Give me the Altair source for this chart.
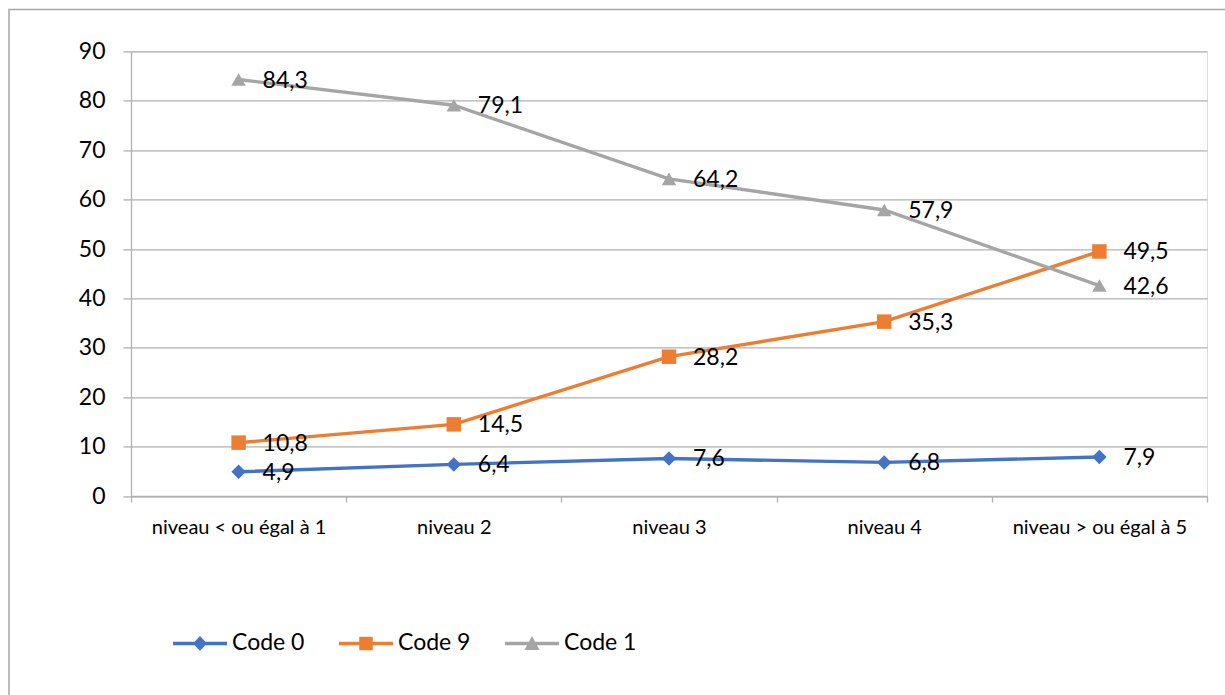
import altair as alt
import pandas as pd

# Categories on the x axis and the three series
categories = [
    "niveau < ou égal à 1",
    "niveau 2",
    "niveau 3",
    "niveau 4",
    "niveau > ou égal à 5",
]
series = ["Code 0", "Code 9", "Code 1"]
code0 = [4.9, 6.4, 7.6, 6.8, 7.9]
code9 = [10.8, 14.5, 28.2, 35.3, 49.5]
code1 = [84.3, 79.1, 64.2, 57.9, 42.6]

# Styling
FONT = "Lato"
colors = ["#4472C4", "#ED7D31", "#A5A5A5"]
shapes = ["diamond", "square", "triangle-up"]
# Legend keys: a short line with the series marker in the middle
legend_keys = [
    "M-1,-0.065H1V0.065H-1Z M-0.26,0L0,-0.27L0.26,0L0,0.27Z",
    "M-1,-0.065H1V0.065H-1Z M-0.25,-0.25H0.25V0.25H-0.25Z",
    "M-1,-0.065H1V0.065H-1Z M0,-0.27L0.28,0.24H-0.28Z",
]
GRID = "#b0b0b0"

rows = []
for name, vals in zip(series, [code0, code9, code1]):
    for cat, v in zip(categories, vals):
        rows.append({
            "niveau": cat,
            "serie": name,
            "valeur": v,
            "etiquette": f"{v:.1f}".replace(".", ","),
        })
df = pd.DataFrame(rows)

base = alt.Chart(df)

x_enc = alt.X(
    "niveau:N",
    sort=categories,
    bandPosition=0.5,
    scale=alt.Scale(type="band", paddingInner=0, paddingOuter=0),
    axis=alt.Axis(
        title=None, labelAngle=0, grid=False, tickBand="extent",
        domainColor=GRID, domainWidth=1.3, tickColor=GRID, tickWidth=1.3,
        tickSize=6, labelFont=FONT, labelFontSize=20, labelFontWeight="normal",
        labelColor="#000000", labelPadding=15,
    ),
)
y_enc = alt.Y(
    "valeur:Q",
    scale=alt.Scale(domain=[0, 90], nice=False, zero=True),
    axis=alt.Axis(
        title=None, values=list(range(0, 91, 10)), grid=True,
        gridColor=GRID, gridWidth=1.3, domainColor=GRID, domainWidth=1.3,
        tickColor=GRID, tickWidth=1.3, tickSize=8,
        labelFont=FONT, labelFontSize=23, labelFontWeight="normal",
        labelColor="#000000", labelPadding=18,
    ),
)
color_scale = alt.Scale(domain=series, range=colors)

lines = base.mark_line(strokeWidth=3.4).encode(
    x=x_enc, y=y_enc,
    color=alt.Color("serie:N", scale=color_scale, legend=None),
)

points = base.mark_point(filled=True, opacity=1, size=210).encode(
    x=x_enc, y=y_enc,
    color=alt.Color("serie:N", scale=color_scale, legend=None),
    shape=alt.Shape("serie:N", scale=alt.Scale(domain=series, range=shapes), legend=None),
)

labels = base.mark_text(
    align="left", baseline="middle", dx=24, dy=1,
    font=FONT, fontSize=23, color="#000000",
).encode(x=x_enc, y=y_enc, text="etiquette:N")

legend_props = dict(
    title=None, orient="none", legendX=42, legendY=565,
    direction="horizontal", columns=3, padding=0,
    symbolSize=2916, symbolStrokeWidth=0, symbolOpacity=1,
    labelFont=FONT, labelFontSize=23, labelColor="#000000",
    labelOffset=5, columnPadding=34,
)
legend_layer = base.transform_filter("false").mark_point(filled=True, opacity=1).encode(
    color=alt.Color("serie:N", scale=color_scale, legend=alt.Legend(**legend_props)),
    shape=alt.Shape("serie:N", scale=alt.Scale(domain=series, range=legend_keys),
                    legend=alt.Legend(**legend_props)),
)

# Outer frame of the chart area
frame = alt.Chart(pd.DataFrame({"k": [0]})).mark_rect(
    fill="transparent", stroke="#a6a6a6", strokeWidth=1.5
).encode(
    x=alt.value(-122), x2=alt.value(1120),
    y=alt.value(-42), y2=alt.value(700),
)

chart = alt.layer(frame, lines, points, labels, legend_layer).resolve_scale(
    color="independent", shape="independent"
).properties(
    width=1076, height=444.6,
    autosize=alt.AutoSizeParams(type="none"),
    padding={"left": 131, "top": 51.4, "right": 18, "bottom": 199},
).configure_view(stroke=None).configure(background="#ffffff")

chart.save("out.html", embed_options={"renderer": "svg", "actions": False})
